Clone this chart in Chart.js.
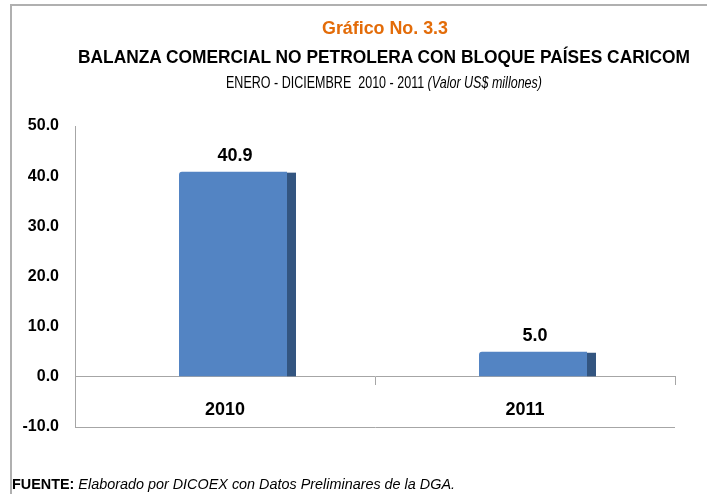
<!DOCTYPE html>
<html>
<head>
<meta charset="utf-8">
<script src="https://cdn.jsdelivr.net/npm/chart.js@4.4.0/dist/chart.umd.min.js"></script>
<style>
  html, body { margin: 0; padding: 0; background: #fff; }
  body { width: 707px; height: 494px; position: relative; overflow: hidden; }
  #frame { position: absolute; left: 10px; top: 4px; width: 720px; height: 520px;
           border-top: 2px solid #b0b0b0; border-left: 2px solid #b0b0b0; }
  #wrap { position: absolute; left: 0; top: 0; width: 707px; height: 494px; }
  .txt { position: absolute; white-space: pre; line-height: 1;
         font-family: "Liberation Sans", Arial, sans-serif; color: #000; }
  #t1 { top: 19px; font-size: 18px; font-weight: bold; color: #e36c09; }
  #t2 { top: 48px; font-size: 18px; font-weight: bold; }
  #t3 { top: 74px; font-size: 17px; }
  #foot { top: 476px; font-size: 15px; }
</style>
</head>
<body>
<div id="frame"></div>
<div id="wrap"><canvas id="chart" width="707" height="494"></canvas></div>
<span class="txt" id="t1">Gráfico No. 3.3</span>
<span class="txt" id="t2">BALANZA COMERCIAL NO PETROLERA CON BLOQUE PAÍSES CARICOM</span>
<span class="txt" id="t3">ENERO - DICIEMBRE  2010 - 2011 <i>(Valor US$ millones)</i></span>
<span class="txt" id="foot"><b>FUENTE:</b> <i>Elaborado por DICOEX con Datos Preliminares de la DGA.</i></span>
<script>
// chart data
const years = ['2010', '2011'];
const balance = [40.9, 5.0];
const yTicks = [-10, 0, 10, 20, 30, 40, 50];

const frontColor = '#5384c3';
const sideColor = '#335580';
const sideDepth = 9;
const shiftX = 8;

// squeeze the Calibri-like text to the widths in the original
function fitText(id, left, width) {
  const el = document.getElementById(id);
  const w = el.getBoundingClientRect().width;
  el.style.left = left + 'px';
  el.style.transformOrigin = '0 0';
  el.style.transform = 'scaleX(' + (width / w) + ')';
}
fitText('t1', 322, 126);
fitText('t2', 78, 612);
fitText('t3', 226, 316);
fitText('foot', 12, 443);

// draws the darker side of each bar and the value labels
const bar3d = {
  id: 'bar3d',
  beforeDatasetsDraw(chart) {
    chart.ctx.save();
    chart.ctx.translate(shiftX, 0);
  },
  afterDatasetsDraw(chart) {
    const ctx = chart.ctx;
    const meta = chart.getDatasetMeta(0);
    meta.data.forEach((bar, i) => {
      const right = bar.x + bar.width / 2;
      ctx.fillStyle = sideColor;
      ctx.fillRect(right, bar.y + 1, sideDepth, bar.base - bar.y - 1);
      ctx.fillStyle = '#000';
      ctx.font = 'bold 18px "Liberation Sans", sans-serif';
      ctx.textAlign = 'center';
      ctx.textBaseline = 'bottom';
      ctx.fillText(balance[i].toFixed(1), bar.x + 2, bar.y - 7);
    });
    ctx.restore();
  }
};

const ctx = document.getElementById('chart').getContext('2d');
new Chart(ctx, {
  type: 'bar',
  data: {
    labels: years,
    datasets: [{
      data: balance,
      backgroundColor: frontColor,
      borderWidth: 0,
      borderRadius: { topLeft: 3, topRight: 0 },
      borderSkipped: 'bottom',
      barPercentage: 0.36,
      categoryPercentage: 1
    }]
  },
  options: {
    responsive: false,
    animation: false,
    events: [],
    layout: { padding: { left: 0, top: 126, right: 32, bottom: 67 } },
    plugins: { legend: { display: false }, tooltip: { enabled: false } },
    scales: {
      x: {
        position: { y: 0 },
        afterFit(scale) { scale.height = 0; },
        grid: { drawOnChartArea: false, color: '#a6a6a6', tickLength: 8, offset: true },
        border: { color: '#a6a6a6', width: 1 },
        ticks: { color: '#000', padding: 14, font: { family: 'Liberation Sans', size: 18, weight: 'bold' } }
      },
      y: {
        min: -10,
        max: 50,
        afterFit(scale) { scale.width = 75; },
        afterBuildTicks(scale) { scale.ticks = yTicks.map(v => ({ value: v })); },
        grid: {
          drawTicks: false,
          color: c => (c.tick && c.tick.value === -10 ? '#a6a6a6' : 'rgba(0,0,0,0)')
        },
        border: { color: '#a6a6a6', width: 1 },
        ticks: {
          color: '#000',
          padding: 16,
          font: { family: 'Liberation Sans', size: 16, weight: 'bold' },
          callback: v => Number(v).toFixed(1)
        }
      }
    }
  },
  plugins: [bar3d]
});
</script>
</body>
</html>
